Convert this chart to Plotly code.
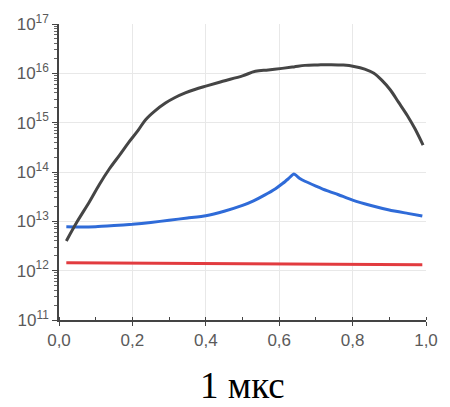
import plotly.graph_objects as go

# Time axis (fraction of 1 us)
x_black = [0.02, 0.05, 0.083, 0.11, 0.137, 0.165, 0.19, 0.215, 0.236, 0.26, 0.29, 0.315,
           0.344, 0.37, 0.4, 0.446, 0.5, 0.535, 0.57, 0.608, 0.64, 0.67, 0.705, 0.742,
           0.775, 0.804, 0.833, 0.858, 0.88, 0.903, 0.925, 0.949, 0.97, 0.992]
y_black = [4.0e12, 1.0e13, 2.5e13, 5.6e13, 1.15e14, 2.2e14, 4.0e14, 6.9e14, 1.15e15,
           1.7e15, 2.5e15, 3.2e15, 4.0e15, 4.7e15, 5.5e15, 6.9e15, 8.9e15, 1.1e16,
           1.17e16, 1.26e16, 1.35e16, 1.45e16, 1.48e16, 1.5e16, 1.47e16, 1.38e16,
           1.22e16, 1.0e16, 7.2e15, 4.6e15, 2.6e15, 1.4e15, 7.5e14, 3.5e14]

x_blue = [0.02, 0.06, 0.1, 0.15, 0.2, 0.25, 0.3, 0.35, 0.4, 0.45, 0.5, 0.53, 0.56,
          0.59, 0.61, 0.625, 0.64, 0.655, 0.67, 0.7, 0.73, 0.76, 0.8, 0.85, 0.9,
          0.95, 0.99]
y_blue = [7.8e12, 7.7e12, 7.8e12, 8.2e12, 8.7e12, 9.5e12, 1.05e13, 1.17e13, 1.3e13,
          1.6e13, 2.1e13, 2.6e13, 3.4e13, 4.6e13, 5.9e13, 7.3e13, 9.1e13, 7.5e13,
          6.5e13, 5.2e13, 4.2e13, 3.5e13, 2.7e13, 2.1e13, 1.7e13, 1.45e13, 1.28e13]

x_red = [0.02, 0.5, 0.99]
y_red = [1.45e12, 1.38e12, 1.32e12]

x_ticks = [0.0, 0.2, 0.4, 0.6, 0.8, 1.0]
x_labels = ["0,0", "0,2", "0,4", "0,6", "0,8", "1,0"]
y_ticks = [1e11, 1e12, 1e13, 1e14, 1e15, 1e16, 1e17]
y_labels = ["10<sup>11</sup>", "10<sup>12</sup>", "10<sup>13</sup>", "10<sup>14</sup>",
            "10<sup>15</sup>", "10<sup>16</sup>", "10<sup>17</sup>"]
title_text = "1 мкс"

# minor log ticks: 2..9 within every decade
y_minor = [m * 10 ** e for e in range(11, 17) for m in range(2, 10)]

fig = go.Figure()
fig.add_trace(go.Scatter(x=x_red, y=y_red, mode="lines",
                         line=dict(color="#e23b3f", width=3)))
fig.add_trace(go.Scatter(x=x_blue, y=y_blue, mode="lines",
                         line=dict(color="#2f6bd8", width=3, shape="spline", smoothing=0.5)))
fig.add_trace(go.Scatter(x=x_black, y=y_black, mode="lines",
                         line=dict(color="#454545", width=3, shape="spline", smoothing=1.0)))

axis_font = dict(family="Liberation Sans, Arial", size=17, color="#5a5a5a")

fig.update_layout(
    width=450, height=407,
    margin=dict(l=59, r=19, t=20, b=87),
    paper_bgcolor="white", plot_bgcolor="white",
    showlegend=False,
    xaxis=dict(
        range=[0, 1], tickvals=x_ticks, ticktext=x_labels,
        showgrid=True, gridcolor="#e8e8e8", gridwidth=1,
        showline=True, linecolor="#444444", linewidth=1.5,
        ticks="outside", ticklen=4, tickcolor="#444444",
        minor=dict(dtick=0.1, ticks="inside", ticklen=3, tickcolor="#444444", showgrid=False),
        tickfont=axis_font, zeroline=False,
    ),
    yaxis=dict(
        type="log", range=[11, 17], tickvals=y_ticks, ticktext=y_labels,
        showgrid=True, gridcolor="#e8e8e8", gridwidth=1,
        showline=True, linecolor="#444444", linewidth=1.5,
        ticks="outside", ticklen=5, tickcolor="#444444",
        minor=dict(tickmode="array", tickvals=y_minor, ticks="outside", ticklen=3,
                   tickcolor="#666666", showgrid=False),
        tickfont=axis_font, zeroline=False,
    ),
    annotations=[dict(
        text=title_text, x=0.5, xref="paper", y=-0.22, yref="paper", yanchor="middle",
        showarrow=False,
        font=dict(family="Liberation Serif, Times New Roman", size=37, color="black"),
    )],
)

fig.write_html("out.html")
